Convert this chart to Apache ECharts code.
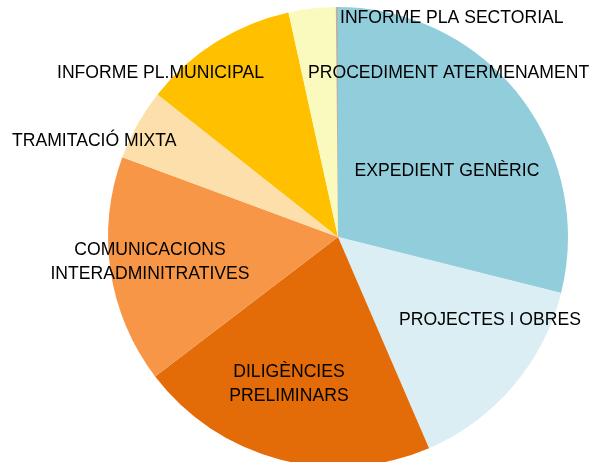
<!DOCTYPE html>
<html>
<head>
<meta charset="utf-8">
<script src="https://cdn.jsdelivr.net/npm/echarts@6/dist/echarts.min.js"></script>
<style>
  html, body { margin: 0; padding: 0; background: #fff; }
  #chart { width: 595px; height: 462px; }
</style>
</head>
<body>
<div id="chart"></div>
<script>
// categories, clockwise from 12 o'clock
const categories = [
    'EXPEDIENT GENÈRIC',
    'PROJECTES I OBRES',
    'DILIGÈNCIES\nPRELIMINARS',
    'COMUNICACIONS\nINTERADMINITRATIVES',
    'TRAMITACIÓ MIXTA',
    'INFORME PL.MUNICIPAL',
    'PROCEDIMENT ATERMENAMENT',
    'INFORME PLA SECTORIAL'
];
// share of each slice (%)
const values = [28.9, 14.6, 21.1, 16.0, 5.0, 10.9, 3.3, 0.15];
const colors = ['#92CDDC', '#DAEEF3', '#E36C09', '#F79646', '#FCDFAA', '#FFC000', '#FAFABE', '#B4B4A8'];

// where each label sits (anchor point + alignment)
const labelSpots = [
    {x: 447, y: 171, align: 'center'},
    {x: 490, y: 320, align: 'center'},
    {x: 289, y: 384, align: 'center'},
    {x: 150, y: 262, align: 'center'},
    {x: 12,  y: 141, align: 'left'},
    {x: 57,  y: 73,  align: 'left'},
    {x: 308, y: 73,  align: 'left'},
    {x: 340, y: 18,  align: 'left'}
];

let myChart = echarts.init(document.getElementById('chart'));

const option = {
    animation: false,
    series: [{
        type: 'pie',
        center: [338, 237],
        radius: 230,
        startAngle: 90,
        clockwise: true,
        avoidLabelOverlap: false,
        data: categories.map((name, i) => ({
            name: name,
            value: values[i],
            itemStyle: {color: colors[i]}
        })),
        label: {
            show: true,
            position: 'inside',
            formatter: '{b}',
            color: '#000',
            fontFamily: 'Liberation Sans',
            fontSize: 17.6,
            lineHeight: 24
        },
        labelLine: {show: false},
        labelLayout: function (params) {
            const s = labelSpots[params.dataIndex];
            return {x: s.x, y: s.y, align: s.align, verticalAlign: 'middle'};
        }
    }]
};

myChart.setOption(option);
</script>
</body>
</html>
